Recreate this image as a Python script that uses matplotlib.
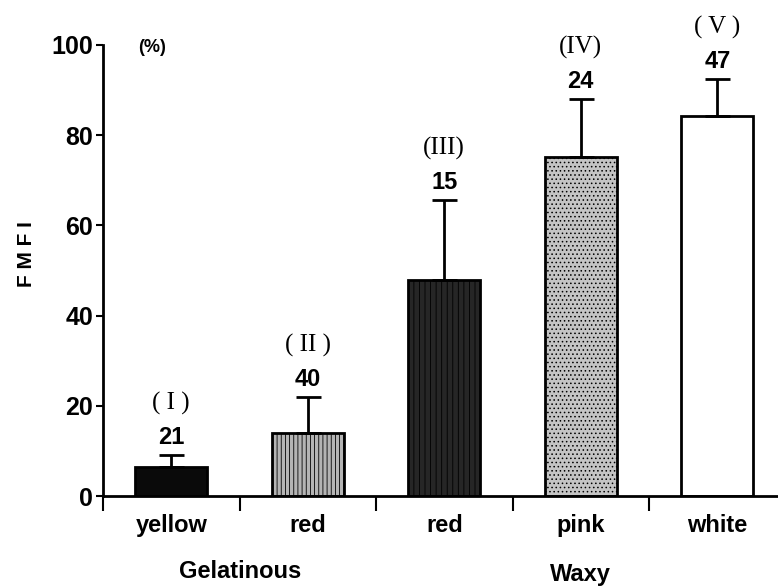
import numpy as np
import matplotlib
matplotlib.use("Agg")
import matplotlib.pyplot as plt

# data
colours = ["yellow", "red", "red", "pink", "white"]
fmfi = [6.4, 14.0, 48.0, 75.2, 84.3]
err_up = [2.7, 8.0, 17.6, 12.8, 8.2]
counts = ["21", "40", "15", "24", "47"]
roman = ["( I )", "( II )", "(III)", "(IV)", "( V )"]
groups = ["Gelatinous", "Waxy"]

faces = ["#0a0a0a", "#b4b4b4", "#262626", "#c4c4c4", "#ffffff"]
hatches = ["", "||||", "|||", "....", ""]
hatch_cols = ["#000000", "#707070", "#8a8a8a", "#707070", "#000000"]

plt.rcParams["font.family"] = ["Liberation Sans", "DejaVu Sans"]
plt.rcParams["hatch.linewidth"] = 0.6

fig = plt.figure(figsize=(7.78, 5.87), dpi=100)
ax = fig.add_axes([103 / 778, 91 / 587, 675 / 778, 451 / 587])

x = np.arange(len(fmfi))
for i in range(len(fmfi)):
    plt.rcParams["hatch.color"] = hatch_cols[i]
    ax.bar(x[i], fmfi[i], width=0.53, color=faces[i], edgecolor="black",
           linewidth=2, hatch=hatches[i], zorder=2)
ax.errorbar(x, fmfi, yerr=[np.zeros(len(fmfi)), err_up], fmt="none",
            ecolor="black", elinewidth=2, capsize=9, capthick=2, zorder=3)

for i in range(len(fmfi)):
    top = fmfi[i] + err_up[i]
    ax.text(x[i], top + 1.3, counts[i], ha="center", va="bottom",
            fontsize=17, fontweight="bold")
    ax.text(x[i], top + 8.8, roman[i], ha="center", va="bottom",
            fontsize=18, family="Liberation Serif")

ax.set_xlim(-0.5, 4.445)
ax.set_ylim(0, 100)
ax.spines["top"].set_visible(False)
ax.spines["right"].set_visible(False)
ax.spines["left"].set_linewidth(2)
ax.spines["bottom"].set_linewidth(2)

ax.set_yticks([0, 20, 40, 60, 80, 100])
ax.tick_params(axis="y", length=5, width=1.5, pad=2, labelsize=18)
for t in ax.get_yticklabels():
    t.set_fontweight("bold")

ax.set_xticks(x)
ax.set_xticklabels(colours, fontsize=17, fontweight="bold")
ax.tick_params(axis="x", which="major", length=0, pad=13)
ax.set_xticks(np.arange(-0.5, 4.0, 1.0), minor=True)
ax.tick_params(axis="x", which="minor", length=11, width=1.5, direction="out")

fig.text(27 / 778, 1 - 254 / 587, "F M F I", rotation=90, ha="center",
         va="center", fontsize=15, fontweight="bold")
fig.text(152 / 778, 1 - 48 / 587, "(%)", ha="center", va="center",
         fontsize=13, fontweight="bold")
fig.text(240 / 778, 1 - 571 / 587, groups[0], ha="center", va="center",
         fontsize=17, fontweight="bold")
fig.text(580 / 778, 1 - 574 / 587, groups[1], ha="center", va="center",
         fontsize=17, fontweight="bold")

fig.savefig("out.png", dpi=100)
